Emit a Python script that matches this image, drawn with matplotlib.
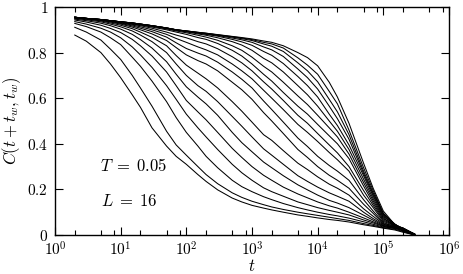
import matplotlib
matplotlib.use("Agg")
import matplotlib.pyplot as plt
from matplotlib.ticker import LogLocator, FixedLocator, FixedFormatter, NullFormatter

plt.rcParams['mathtext.fontset'] = 'cm'
plt.rcParams['font.family'] = ['DejaVu Serif']

# time grid (t)
t = [2, 3, 5, 7, 10, 15, 20, 30, 50, 70, 100, 150, 200, 300, 500, 700,
     1e3, 1.5e3, 2e3, 3e3, 5e3, 7e3, 1e4, 1.5e4, 2e4, 3e4, 5e4, 7e4,
     1e5, 1.5e5, 2e5, 3e5]

# C(t+tw, tw) for increasing waiting times tw
c01 = [0.877, 0.85, 0.80, 0.75, 0.69, 0.615, 0.56, 0.47, 0.39, 0.345, 0.31, 0.265,
       0.235, 0.198, 0.162, 0.145, 0.13, 0.118, 0.11, 0.10, 0.088, 0.082, 0.075,
       0.068, 0.064, 0.057, 0.045, 0.038, 0.03, 0.022, 0.012, 0.0]
c02 = [0.911, 0.89, 0.855, 0.815, 0.77, 0.70, 0.645, 0.565, 0.455, 0.395, 0.35, 0.30,
       0.265, 0.225, 0.185, 0.165, 0.148, 0.133, 0.123, 0.112, 0.10, 0.093, 0.086,
       0.078, 0.072, 0.064, 0.05, 0.042, 0.032, 0.025, 0.015, 0.0]
c03 = [0.928, 0.914, 0.89, 0.865, 0.835, 0.78, 0.74, 0.675, 0.585, 0.515, 0.45, 0.39,
       0.345, 0.295, 0.24, 0.212, 0.19, 0.168, 0.155, 0.138, 0.12, 0.11, 0.10,
       0.09, 0.084, 0.074, 0.058, 0.047, 0.035, 0.03, 0.018, 0.0]
c04 = [0.936, 0.925, 0.907, 0.89, 0.865, 0.825, 0.79, 0.735, 0.655, 0.595, 0.53, 0.47,
       0.43, 0.375, 0.31, 0.273, 0.24, 0.207, 0.19, 0.17, 0.145, 0.133, 0.12,
       0.108, 0.10, 0.088, 0.066, 0.053, 0.038, 0.028, 0.02, 0.002]
c05 = [0.943, 0.934, 0.92, 0.906, 0.888, 0.858, 0.83, 0.785, 0.715, 0.655, 0.59, 0.54,
       0.505, 0.45, 0.38, 0.34, 0.30, 0.262, 0.24, 0.21, 0.18, 0.163, 0.145,
       0.128, 0.118, 0.10, 0.075, 0.058, 0.04, 0.035, 0.022, 0.0]
c06 = [0.947, 0.94, 0.929, 0.918, 0.903, 0.88, 0.857, 0.82, 0.76, 0.705, 0.65, 0.605,
       0.575, 0.525, 0.45, 0.405, 0.365, 0.32, 0.295, 0.26, 0.22, 0.198, 0.175,
       0.152, 0.14, 0.12, 0.087, 0.065, 0.042, 0.03, 0.025, 0.003]
c07 = [0.95, 0.944, 0.935, 0.925, 0.913, 0.895, 0.877, 0.848, 0.80, 0.75, 0.70, 0.655,
       0.63, 0.585, 0.52, 0.477, 0.43, 0.378, 0.35, 0.31, 0.26, 0.235, 0.21,
       0.185, 0.17, 0.148, 0.10, 0.072, 0.045, 0.036, 0.02, 0.0]
c08 = [0.952, 0.947, 0.939, 0.93, 0.92, 0.905, 0.89, 0.867, 0.83, 0.787, 0.745, 0.71,
       0.685, 0.645, 0.585, 0.543, 0.495, 0.44, 0.415, 0.37, 0.315, 0.287, 0.255,
       0.223, 0.205, 0.175, 0.115, 0.082, 0.048, 0.032, 0.028, 0.004]
c09 = [0.953, 0.948, 0.941, 0.934, 0.925, 0.912, 0.90, 0.882, 0.853, 0.822, 0.79, 0.765,
       0.75, 0.72, 0.67, 0.637, 0.595, 0.537, 0.50, 0.445, 0.375, 0.34, 0.30,
       0.262, 0.24, 0.205, 0.135, 0.095, 0.05, 0.04, 0.022, 0.0]
c10 = [0.954, 0.949, 0.943, 0.936, 0.928, 0.917, 0.907, 0.892, 0.868, 0.843, 0.818, 0.798,
       0.785, 0.758, 0.715, 0.683, 0.645, 0.588, 0.55, 0.495, 0.425, 0.388, 0.345,
       0.305, 0.28, 0.24, 0.155, 0.105, 0.055, 0.035, 0.03, 0.002]
c11 = [0.954, 0.949, 0.944, 0.938, 0.93, 0.921, 0.913, 0.90, 0.88, 0.862, 0.845, 0.825,
       0.812, 0.79, 0.75, 0.72, 0.685, 0.635, 0.60, 0.55, 0.485, 0.45, 0.41,
       0.362, 0.33, 0.28, 0.175, 0.12, 0.06, 0.04, 0.024, 0.0]
c12 = [0.955, 0.95, 0.944, 0.939, 0.932, 0.924, 0.918, 0.907, 0.89, 0.877, 0.865, 0.848,
       0.838, 0.817, 0.782, 0.755, 0.72, 0.672, 0.64, 0.59, 0.525, 0.49, 0.445,
       0.395, 0.36, 0.30, 0.195, 0.13, 0.065, 0.042, 0.03, 0.003]
c13 = [0.955, 0.95, 0.945, 0.94, 0.933, 0.926, 0.921, 0.912, 0.90, 0.89, 0.88, 0.866,
       0.858, 0.84, 0.81, 0.785, 0.75, 0.705, 0.675, 0.625, 0.565, 0.53, 0.485,
       0.435, 0.40, 0.335, 0.215, 0.14, 0.07, 0.045, 0.026, 0.0]
c14 = [0.955, 0.95, 0.945, 0.94, 0.934, 0.928, 0.923, 0.915, 0.904, 0.895, 0.887, 0.876,
       0.868, 0.854, 0.83, 0.81, 0.78, 0.74, 0.715, 0.67, 0.61, 0.572, 0.525,
       0.47, 0.43, 0.355, 0.23, 0.15, 0.075, 0.04, 0.03, 0.004]
c15 = [0.955, 0.95, 0.945, 0.94, 0.935, 0.929, 0.924, 0.917, 0.906, 0.898, 0.891, 0.882,
       0.876, 0.865, 0.848, 0.833, 0.81, 0.775, 0.755, 0.715, 0.655, 0.615, 0.565,
       0.50, 0.455, 0.375, 0.245, 0.16, 0.08, 0.046, 0.025, 0.0]
c16 = [0.955, 0.95, 0.945, 0.94, 0.935, 0.93, 0.925, 0.918, 0.908, 0.90, 0.893, 0.885,
       0.88, 0.872, 0.858, 0.847, 0.832, 0.805, 0.788, 0.752, 0.695, 0.655, 0.605,
       0.53, 0.48, 0.395, 0.26, 0.17, 0.085, 0.044, 0.028, 0.002]
c17 = [0.955, 0.95, 0.945, 0.94, 0.935, 0.93, 0.925, 0.918, 0.908, 0.90, 0.894, 0.887,
       0.882, 0.875, 0.864, 0.856, 0.845, 0.825, 0.812, 0.783, 0.728, 0.69, 0.64,
       0.565, 0.51, 0.42, 0.27, 0.178, 0.09, 0.048, 0.024, 0.0]
c18 = [0.955, 0.95, 0.945, 0.94, 0.935, 0.93, 0.925, 0.918, 0.908, 0.90, 0.895, 0.888,
       0.884, 0.877, 0.868, 0.861, 0.853, 0.838, 0.828, 0.805, 0.755, 0.72, 0.672,
       0.595, 0.54, 0.44, 0.28, 0.185, 0.095, 0.045, 0.03, 0.003]
c19 = [0.955, 0.95, 0.945, 0.94, 0.935, 0.93, 0.925, 0.918, 0.908, 0.90, 0.895, 0.889,
       0.885, 0.878, 0.87, 0.864, 0.857, 0.845, 0.838, 0.82, 0.777, 0.745, 0.705,
       0.63, 0.575, 0.46, 0.295, 0.195, 0.095, 0.047, 0.026, 0.0]
c20 = [0.955, 0.95, 0.945, 0.94, 0.935, 0.93, 0.925, 0.918, 0.908, 0.90, 0.895, 0.889,
       0.885, 0.879, 0.871, 0.866, 0.86, 0.851, 0.845, 0.83, 0.80, 0.778, 0.742,
       0.67, 0.605, 0.49, 0.315, 0.205, 0.105, 0.045, 0.025, 0.005]

curves = [c01, c02, c03, c04, c05, c06, c07, c08, c09, c10,
          c11, c12, c13, c14, c15, c16, c17, c18, c19, c20]

ytick_vals = [0, 0.2, 0.4, 0.6, 0.8, 1]
ytick_labels = ['0', '0.2', '0.4', '0.6', '0.8', '1']
xtick_vals = [1, 10, 100, 1e3, 1e4, 1e5, 1e6]
xtick_labels = ['$10^{0}$', '$10^{1}$', '$10^{2}$', '$10^{3}$', '$10^{4}$', '$10^{5}$', '$10^{6}$']

fig = plt.figure(figsize=(4.63, 2.74), dpi=100)
ax = fig.add_axes([55/463, 1-235/274, 394/463, 228/274])

for c in curves:
    ax.plot(t, c, color='black', lw=0.75)

ax.set_xscale('log')
ax.set_xlim(1, 1e6)
ax.set_ylim(0, 1)

ax.xaxis.set_major_locator(FixedLocator(xtick_vals))
ax.xaxis.set_major_formatter(FixedFormatter(xtick_labels))
ax.xaxis.set_minor_locator(LogLocator(base=10, subs=[2, 5, 8], numticks=20))
ax.xaxis.set_minor_formatter(NullFormatter())
ax.yaxis.set_major_locator(FixedLocator(ytick_vals))
ax.yaxis.set_major_formatter(FixedFormatter(['$%s$' % s for s in ytick_labels]))

ax.tick_params(which='both', direction='in', top=True, right=True, labelsize=11)
ax.tick_params(which='major', length=6, width=0.8)
ax.tick_params(which='minor', length=3.5, width=0.8)
ax.tick_params(axis='x', pad=4)
ax.tick_params(axis='y', pad=5)
for s in ax.spines.values():
    s.set_linewidth(1.0)

ax.set_xlabel('$t$', fontsize=12, va='center')
ax.xaxis.set_label_coords(0.5, (235 - 266.5) / 228)
ax.set_ylabel('$C(t+t_w,t_w)$', fontsize=12, labelpad=3)

ax.text(0.114, 0.30, r'$T\;=\;0.05$', transform=ax.transAxes, fontsize=12, ha='left', va='center')
ax.text(0.118, 0.145, r'$L\;=\;16$', transform=ax.transAxes, fontsize=12, ha='left', va='center')

fig.savefig('out.png', dpi=100)
